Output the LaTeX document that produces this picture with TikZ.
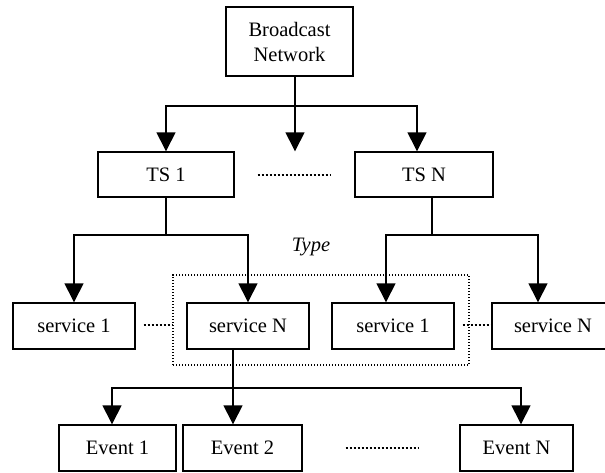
\documentclass[tikz,border=0pt]{standalone}
\usepackage{fontspec}
\setmainfont{Liberation Serif}
\usetikzlibrary{arrows.meta}

\tikzset{
  box/.style={draw, line width=1.4pt, inner sep=0pt, align=center,
    font=\fontsize{20.5}{25}\selectfont},
  link/.style={line width=1.4pt},
  arrowlink/.style={line width=1.4pt, -{Triangle[width=19pt,length=19pt]}},
  gapdots/.style={line width=2pt, dash pattern=on 2pt off 2pt},
  groupbox/.style={draw, line width=1.4pt, dash pattern=on 1.4pt off 1.6pt,
    inner sep=0pt},
}

\begin{document}
\begin{tikzpicture}[x=1pt, y=-1pt]
  \clip (0,0) rectangle (605,472);

  % top-level network
  \node[box, minimum width=127pt, minimum height=69pt] (bn) at (289.5,41.5) {Broadcast\\Network};

  % transport streams
  \node[box, minimum width=136pt, minimum height=45pt] (ts1) at (166,174.5) {TS 1};
  \node[box, minimum width=138pt, minimum height=45pt] (tsn) at (424,174.5) {TS N};

  % service type grouping
  \node[groupbox, minimum width=296pt, minimum height=90pt] (grp) at (321,320) {};
  \node[font=\fontsize{20.5}{25}\selectfont\itshape] (lbl) at (311,247) {Type};

  % services
  \node[box, minimum width=122pt, minimum height=46pt] (s1a) at (74,326) {service 1};
  \node[box, minimum width=122pt, minimum height=46pt] (sna) at (248,326) {service N};
  \node[box, minimum width=122pt, minimum height=46pt] (s1b) at (393,326) {service 1};
  \node[box, minimum width=122pt, minimum height=46pt] (snb) at (553,326) {service N};

  % events
  \node[box, minimum width=117pt, minimum height=46pt] (e1) at (117.5,448) {Event 1};
  \node[box, minimum width=119pt, minimum height=46pt] (e2) at (242.5,448) {Event 2};
  \node[box, minimum width=113pt, minimum height=46pt] (en) at (516.5,448) {Event N};

  % network -> transport streams
  \coordinate (j0) at ([xshift=5.5pt]bn.south |- 0,106);
  \draw[link] ([xshift=5.5pt]bn.south) -- (j0);
  \draw[arrowlink] (j0) -| (ts1.north);
  \draw[arrowlink] (j0) -| ([xshift=-7pt]tsn.north);
  \draw[arrowlink] (j0) -- (j0 |- ts1.north);

  % TS 1 -> services
  \coordinate (j1) at (ts1.south |- 0,235);
  \draw[link] (ts1.south) -- (j1);
  \draw[arrowlink] (j1) -| (s1a.north);
  \draw[arrowlink] (j1) -| (sna.north);

  % TS N -> services
  \coordinate (j2) at ([xshift=8pt]tsn.south |- 0,235);
  \draw[link] ([xshift=8pt]tsn.south) -- (j2);
  \draw[arrowlink] (j2) -| ([xshift=-7pt]s1b.north);
  \draw[arrowlink] (j2) -| ([xshift=-15pt]snb.north);

  % service N -> events
  \coordinate (j3) at ([xshift=-15pt]sna.south |- 0,388);
  \draw[arrowlink] ([xshift=-15pt]sna.south) -- ([xshift=-9.5pt]e2.north);
  \draw[arrowlink] (j3) -| ([xshift=-5.5pt]e1.north);
  \draw[arrowlink] (j3) -| ([xshift=4.5pt]en.north);

  % ellipsis dots
  \draw[gapdots] ([xshift=23pt]ts1.east) -- ([xshift=-23pt]tsn.west);
  \draw[gapdots] ([xshift=8pt,yshift=1pt]s1a.east) -- ([yshift=1pt]grp.west |- s1a.east);
  \draw[gapdots] ([xshift=8pt,yshift=1pt]s1b.east) -- ([yshift=1pt]snb.west);
  \draw[gapdots] ([xshift=43pt]e2.east) -- ([xshift=-40pt]en.west);
\end{tikzpicture}
\end{document}
